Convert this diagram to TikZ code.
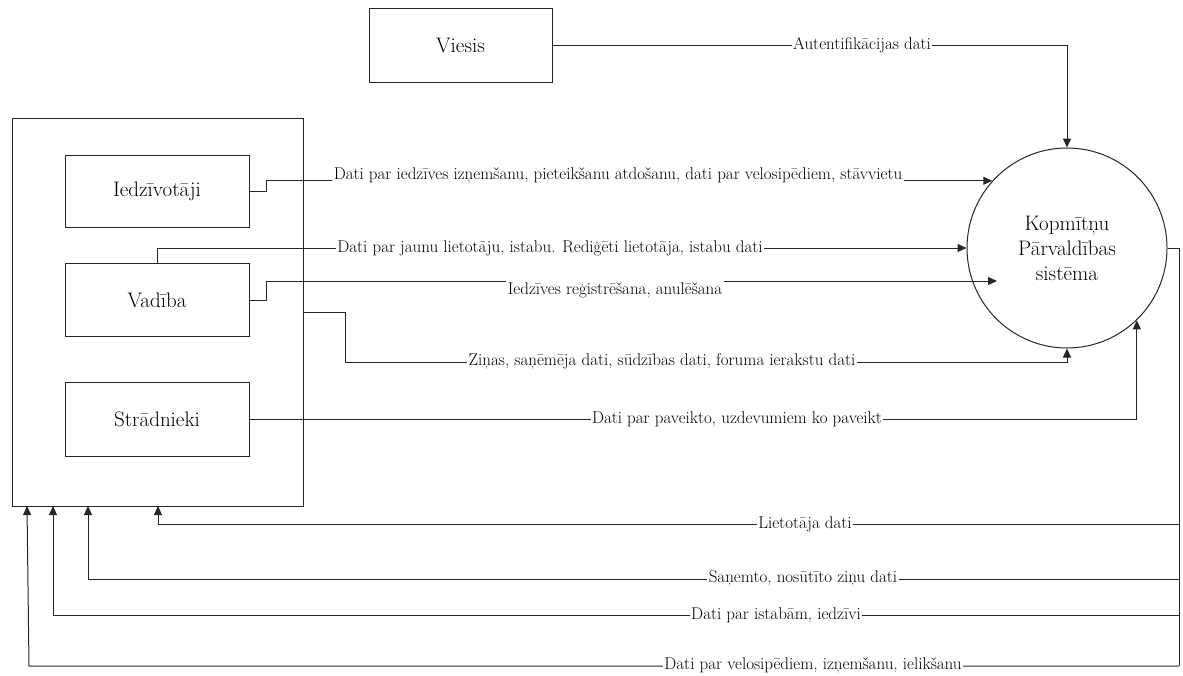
\documentclass[tikz,border=0pt]{standalone}
\usepackage{fontspec}
\usetikzlibrary{arrows.meta}
\begin{document}
\begin{tikzpicture}[x=1pt,y=-1pt,
  box/.style={draw=black!85, line width=1pt, minimum width=184, minimum height=73, inner sep=0pt, font=\fontsize{21}{25}\selectfont},
  outerbox/.style={draw=black!85, line width=1pt, minimum width=291, minimum height=388, inner sep=0pt},
  sysc/.style={draw=black!85, line width=1pt, circle, minimum size=200, inner sep=0pt, align=center, font=\fontsize{21}{25}\selectfont},
  flow/.style={draw=black!85, line width=1pt, -{Triangle[length=9pt,width=8pt]}},
  plain/.style={draw=black!85, line width=1pt},
  lbl/.style={fill=white, inner sep=1.5pt, font=\fontsize{17}{19}\selectfont}]
\useasboundingbox (0,0) rectangle (1183,675);
% nodes
\node[box, minimum width=183, minimum height=74] (viesis) at (460.5,45) {Viesis};
\node[outerbox] (outer) at (157.5,312) {};
\node[box, minimum height=72] (iedz) at (157,191) {Iedzīvotāji};
\node[box] (vad) at (157,300) {Vadība};
\node[box, minimum height=74] (strad) at (157,419) {Strādnieki};
\node[sysc] (sys) at (1067,248) {Kopmītņu\\Pārvaldības\\sistēma};
% helper coordinates
\coordinate (regEnd) at (997,281);
\coordinate (zc) at (1067,362);
\coordinate (rTop) at (1179,248);
\coordinate (r1) at (1179,524);
\coordinate (r2) at (1179,579);
\coordinate (r3) at (1179,615);
\coordinate (r4) at (1179,666);
\coordinate (t1) at (158,506);
\coordinate (t2) at (88,506);
\coordinate (t3) at (53,506);
\coordinate (c4) at (29,666);
\coordinate (t4) at (27,506);
% connectors
\draw[flow] (viesis.east) -| (sys.north);
\draw[flow] (iedz.east) -- ++(17,0) |- (sys.138);
\draw[flow] (vad.north) |- (sys.west);
\draw[flow] (vad.east) -- ++(17,0) |- (regEnd);
\draw[flow] (outer.east) -- ++(42,0) |- (zc) -- (sys.south);
\draw[flow] (strad.east) -| (sys.-46);
\draw[plain] (sys.east) -- (rTop) -- (r4);
\draw[flow] (r1) -| (t1);
\draw[flow] (r2) -| (t2);
\draw[flow] (r3) -| (t3);
\draw[flow] (r4) -- (c4) -- (t4);
% labels
\node[lbl] (lAuth) at (862,45) {Autentifikācijas dati};
\node[lbl, anchor=base] (lIedz) at (618,179) {Dati par iedzīves izņemšanu, pieteikšanu atdošanu, dati par velosipēdiem, stāvvietu};
\node[lbl] (lJaunu) at (550,248) {Dati par jaunu lietotāju, istabu. Rediģēti lietotāja, istabu dati};
\node[lbl, inner ysep=3pt] (lReg) at (615,290) {Iedzīves reģistrēšana, anulēšana};
\node[lbl] (lZin) at (662,362) {Ziņas, saņēmēja dati, sūdzības dati, foruma ierakstu dati};
\node[lbl] (lPav) at (737,419) {Dati par paveikto, uzdevumiem ko paveikt};
\node[lbl] (lLiet) at (805,524) {Lietotāja dati};
\node[lbl] (lSan) at (803,579) {Saņemto, nosūtīto ziņu dati};
\node[lbl] (lIst) at (776,615) {Dati par istabām, iedzīvi};
\node[lbl] (lVel) at (813,666) {Dati par velosipēdiem, izņemšanu, ielikšanu};
\end{tikzpicture}
\end{document}
